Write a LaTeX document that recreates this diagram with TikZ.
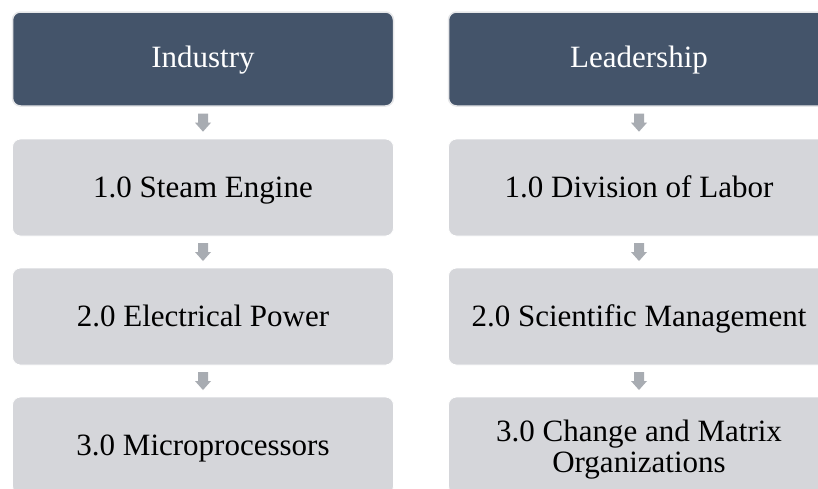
\documentclass[tikz,border=0pt]{standalone}
\usepackage{fontspec}
\setmainfont{Liberation Serif}
\usetikzlibrary{calc}
\definecolor{hdrfill}{HTML}{44546A}
\definecolor{hdrline}{HTML}{E6E7E9}
\definecolor{boxfill}{HTML}{D5D6DA}
\definecolor{arrowc}{HTML}{A8ACB2}
\tikzset{
  base/.style={rounded corners=8pt, minimum width=381pt, align=center, inner sep=2pt,
    font=\fontsize{31}{31}\selectfont, text height=21pt, text depth=1pt},
  header/.style={base, fill=hdrfill, draw=hdrline, line width=1.5pt, text=white, minimum height=94pt,
    text height=20pt, text depth=4pt},
  stepbox/.style={base, fill=boxfill, draw=white, line width=0.8pt, text=black, minimum height=97pt},
  twoline/.style={text height={}, text depth={}},
  downarrow/.pic={\fill[arrowc] (-5,-9) -- (5,-9) -- (5,0) -- (8,0) -- (0,9) -- (-8,0) -- (-5,0) -- cycle;}
}
\begin{document}
\begin{tikzpicture}[x=1pt,y=-1pt]
\useasboundingbox (0,0) rectangle (818,488);
\clip (0,0) rectangle (818,488);
\fill[white] (0,0) rectangle (818,488);
% left column
\node[header]  (h1) at (203,59)    {Industry};
\node[stepbox] (a1) at (203,187.5) {1.0 Steam Engine};
\node[stepbox] (a2) at (203,316.5) {2.0 Electrical Power};
\node[stepbox] (a3) at (203,445.5) {3.0 Microprocessors};
% right column
\node[header]  (h2) at (639,59)    {Leadership};
\node[stepbox] (b1) at (639,187.5) {1.0 Division of Labor};
\node[stepbox] (b2) at (639,316.5) {2.0 Scientific Management};
\node[stepbox, twoline] (b3) at (639,445.5) {\rule{0pt}{29pt}3.0 Change and Matrix\\Organizations};
% arrows
\path ($(h1.south)!0.5!(a1.north)$) pic {downarrow};
\path ($(a1.south)!0.5!(a2.north)$) pic {downarrow};
\path ($(a2.south)!0.5!(a3.north)$) pic {downarrow};
\path ($(h2.south)!0.5!(b1.north)$) pic {downarrow};
\path ($(b1.south)!0.5!(b2.north)$) pic {downarrow};
\path ($(b2.south)!0.5!(b3.north)$) pic {downarrow};
\end{tikzpicture}
\end{document}
